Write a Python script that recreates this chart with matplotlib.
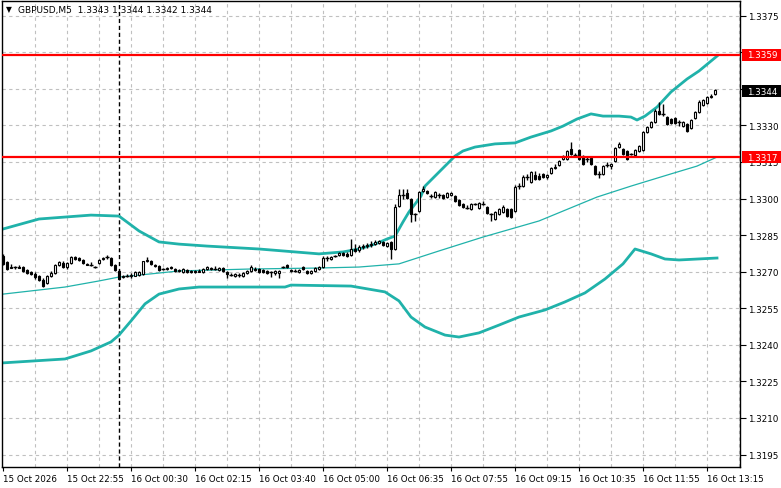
import matplotlib
matplotlib.use('Agg')
import matplotlib.pyplot as plt
import matplotlib.transforms as mtransforms
from matplotlib.patches import Rectangle

# GBPUSD M5 candles (one value per bar, left to right)
opens = [
    1.32764, 1.32740, 1.32715, 1.32719, 1.32719, 1.32719, 1.32707, 1.32699, 1.32691, 1.32682,
    1.32666, 1.32654, 1.32682, 1.32695, 1.32727, 1.32736, 1.32719, 1.32736, 1.32760, 1.32756,
    1.32748, 1.32732, 1.32727, 1.32719, 1.32736, 1.32752, 1.32760, 1.32756, 1.32727, 1.32703,
    1.32678, 1.32682, 1.32682, 1.32682, 1.32686, 1.32691, 1.32744, 1.32744, 1.32727, 1.32723,
    1.32711, 1.32711, 1.32719, 1.32711, 1.32703, 1.32699, 1.32707, 1.32703, 1.32703, 1.32699,
    1.32699, 1.32711, 1.32715, 1.32711, 1.32707, 1.32715, 1.32699, 1.32686, 1.32682, 1.32686,
    1.32682, 1.32695, 1.32703, 1.32711, 1.32711, 1.32707, 1.32703, 1.32699, 1.32695, 1.32695,
    1.32719, 1.32727, 1.32707, 1.32703, 1.32699, 1.32719, 1.32703, 1.32695, 1.32703, 1.32711,
    1.32719, 1.32756, 1.32752, 1.32764, 1.32768, 1.32777, 1.32773, 1.32768, 1.32793, 1.32789,
    1.32801, 1.32805, 1.32809, 1.32813, 1.32818, 1.32822, 1.32805, 1.32822, 1.32793, 1.32969,
    1.33014, 1.33023, 1.32998, 1.32937, 1.32949, 1.33031, 1.33031, 1.33010, 1.33006, 1.33014,
    1.33014, 1.33006, 1.33014, 1.33010, 1.32994, 1.32978, 1.32961, 1.32957, 1.32978, 1.32961,
    1.32978, 1.32965, 1.32937, 1.32916, 1.32937, 1.32945, 1.32957, 1.32957, 1.32949, 1.33051,
    1.33051, 1.33088, 1.33068, 1.33096, 1.33092, 1.33101, 1.33088, 1.33105, 1.33125, 1.33137,
    1.33162, 1.33162, 1.33203, 1.33178, 1.33199, 1.33174, 1.33162, 1.33166, 1.33133, 1.33101,
    1.33101, 1.33137, 1.33133, 1.33154, 1.33211, 1.33203, 1.33195, 1.33183, 1.33178, 1.33195,
    1.33199, 1.33273, 1.33293, 1.33314, 1.33359, 1.33347, 1.33334, 1.33326, 1.33330, 1.33314,
    1.33297, 1.33306, 1.33289, 1.33330, 1.33355, 1.33383, 1.33392, 1.33416, 1.33428,
]
highs = [
    1.32773, 1.32744, 1.32732, 1.32723, 1.32727, 1.32723, 1.32711, 1.32703, 1.32699, 1.32686,
    1.32674, 1.32686, 1.32703, 1.32732, 1.32744, 1.32744, 1.32740, 1.32764, 1.32764, 1.32760,
    1.32752, 1.32736, 1.32740, 1.32723, 1.32752, 1.32760, 1.32768, 1.32760, 1.32732, 1.32707,
    1.32686, 1.32691, 1.32695, 1.32703, 1.32703, 1.32744, 1.32760, 1.32748, 1.32732, 1.32727,
    1.32715, 1.32719, 1.32723, 1.32715, 1.32711, 1.32715, 1.32711, 1.32707, 1.32707, 1.32711,
    1.32715, 1.32723, 1.32719, 1.32723, 1.32719, 1.32719, 1.32703, 1.32695, 1.32695, 1.32695,
    1.32699, 1.32707, 1.32727, 1.32719, 1.32715, 1.32711, 1.32707, 1.32703, 1.32707, 1.32707,
    1.32723, 1.32732, 1.32711, 1.32711, 1.32711, 1.32723, 1.32707, 1.32707, 1.32719, 1.32723,
    1.32764, 1.32764, 1.32764, 1.32768, 1.32781, 1.32781, 1.32781, 1.32834, 1.32813, 1.32809,
    1.32813, 1.32818, 1.32826, 1.32830, 1.32830, 1.32826, 1.32822, 1.32826, 1.32978, 1.33039,
    1.33039, 1.33039, 1.33002, 1.32941, 1.33031, 1.33051, 1.33035, 1.33019, 1.33031, 1.33023,
    1.33019, 1.33027, 1.33027, 1.33014, 1.32998, 1.32982, 1.32973, 1.32982, 1.32982, 1.32986,
    1.32990, 1.32969, 1.32941, 1.32949, 1.32961, 1.32973, 1.32961, 1.32961, 1.33056, 1.33064,
    1.33096, 1.33101, 1.33113, 1.33113, 1.33105, 1.33105, 1.33101, 1.33129, 1.33142, 1.33158,
    1.33178, 1.33199, 1.33232, 1.33187, 1.33203, 1.33178, 1.33174, 1.33170, 1.33137, 1.33113,
    1.33137, 1.33150, 1.33146, 1.33211, 1.33232, 1.33207, 1.33199, 1.33187, 1.33203, 1.33219,
    1.33277, 1.33297, 1.33318, 1.33367, 1.33396, 1.33388, 1.33338, 1.33330, 1.33334, 1.33322,
    1.33318, 1.33310, 1.33326, 1.33359, 1.33404, 1.33408, 1.33420, 1.33428, 1.33449,
]
lows = [
    1.32727, 1.32707, 1.32715, 1.32711, 1.32715, 1.32699, 1.32691, 1.32686, 1.32670, 1.32662,
    1.32637, 1.32650, 1.32678, 1.32691, 1.32723, 1.32715, 1.32711, 1.32732, 1.32748, 1.32744,
    1.32732, 1.32727, 1.32723, 1.32715, 1.32732, 1.32748, 1.32752, 1.32723, 1.32703, 1.32666,
    1.32674, 1.32678, 1.32674, 1.32682, 1.32682, 1.32686, 1.32740, 1.32727, 1.32719, 1.32703,
    1.32707, 1.32707, 1.32711, 1.32699, 1.32699, 1.32695, 1.32695, 1.32695, 1.32695, 1.32699,
    1.32695, 1.32707, 1.32707, 1.32707, 1.32703, 1.32699, 1.32674, 1.32682, 1.32678, 1.32678,
    1.32678, 1.32691, 1.32699, 1.32703, 1.32695, 1.32695, 1.32691, 1.32678, 1.32686, 1.32674,
    1.32715, 1.32715, 1.32699, 1.32699, 1.32695, 1.32707, 1.32691, 1.32691, 1.32699, 1.32707,
    1.32715, 1.32744, 1.32748, 1.32760, 1.32764, 1.32764, 1.32760, 1.32764, 1.32781, 1.32781,
    1.32793, 1.32797, 1.32801, 1.32809, 1.32813, 1.32805, 1.32801, 1.32752, 1.32789, 1.32965,
    1.32998, 1.32998, 1.32904, 1.32908, 1.32945, 1.33027, 1.33019, 1.33002, 1.33002, 1.33002,
    1.32998, 1.33002, 1.33010, 1.32986, 1.32969, 1.32961, 1.32957, 1.32953, 1.32973, 1.32957,
    1.32973, 1.32937, 1.32908, 1.32912, 1.32932, 1.32941, 1.32924, 1.32920, 1.32945, 1.33039,
    1.33047, 1.33076, 1.33064, 1.33076, 1.33076, 1.33084, 1.33080, 1.33101, 1.33121, 1.33133,
    1.33158, 1.33158, 1.33178, 1.33174, 1.33158, 1.33137, 1.33150, 1.33137, 1.33096, 1.33084,
    1.33096, 1.33129, 1.33121, 1.33150, 1.33207, 1.33178, 1.33158, 1.33178, 1.33174, 1.33191,
    1.33195, 1.33269, 1.33289, 1.33310, 1.33342, 1.33338, 1.33301, 1.33306, 1.33306, 1.33297,
    1.33293, 1.33273, 1.33285, 1.33326, 1.33351, 1.33379, 1.33388, 1.33412, 1.33424,
]
closes = [
    1.32732, 1.32711, 1.32719, 1.32719, 1.32715, 1.32703, 1.32695, 1.32691, 1.32678, 1.32666,
    1.32641, 1.32682, 1.32695, 1.32727, 1.32740, 1.32719, 1.32736, 1.32760, 1.32752, 1.32748,
    1.32736, 1.32727, 1.32727, 1.32719, 1.32748, 1.32756, 1.32760, 1.32727, 1.32707, 1.32670,
    1.32682, 1.32682, 1.32686, 1.32699, 1.32699, 1.32744, 1.32748, 1.32732, 1.32723, 1.32707,
    1.32711, 1.32715, 1.32715, 1.32703, 1.32707, 1.32711, 1.32699, 1.32699, 1.32699, 1.32703,
    1.32711, 1.32719, 1.32711, 1.32711, 1.32715, 1.32703, 1.32691, 1.32686, 1.32691, 1.32686,
    1.32695, 1.32703, 1.32719, 1.32707, 1.32699, 1.32699, 1.32695, 1.32699, 1.32703, 1.32703,
    1.32719, 1.32719, 1.32703, 1.32703, 1.32707, 1.32711, 1.32695, 1.32703, 1.32715, 1.32719,
    1.32756, 1.32756, 1.32760, 1.32764, 1.32777, 1.32768, 1.32764, 1.32793, 1.32785, 1.32801,
    1.32805, 1.32809, 1.32813, 1.32822, 1.32826, 1.32809, 1.32818, 1.32793, 1.32965, 1.33014,
    1.33014, 1.33002, 1.32937, 1.32937, 1.33027, 1.33039, 1.33023, 1.33010, 1.33027, 1.33014,
    1.33002, 1.33023, 1.33023, 1.32990, 1.32973, 1.32965, 1.32961, 1.32978, 1.32978, 1.32982,
    1.32978, 1.32941, 1.32937, 1.32945, 1.32957, 1.32965, 1.32928, 1.32924, 1.33047, 1.33051,
    1.33088, 1.33088, 1.33109, 1.33080, 1.33080, 1.33088, 1.33096, 1.33125, 1.33129, 1.33154,
    1.33174, 1.33195, 1.33183, 1.33178, 1.33162, 1.33142, 1.33162, 1.33142, 1.33101, 1.33101,
    1.33133, 1.33137, 1.33142, 1.33207, 1.33224, 1.33183, 1.33162, 1.33183, 1.33199, 1.33215,
    1.33273, 1.33293, 1.33314, 1.33359, 1.33347, 1.33347, 1.33306, 1.33310, 1.33310, 1.33314,
    1.33314, 1.33277, 1.33322, 1.33355, 1.33396, 1.33404, 1.33416, 1.33420, 1.33445,
]

# Bollinger bands (bar index, price)
upper_x = [0, 9, 22, 29, 34, 39, 44, 51, 64, 70, 79, 85, 89, 93, 96, 98, 100, 101.5, 103,
           104.5, 105.5, 108, 110.5, 113, 115, 118, 123, 128, 132, 137, 140, 143.5, 147,
           150, 154, 157, 158.5, 160.5, 163.5, 167, 171, 174, 178.5]
upper_y = [1.32875, 1.32916, 1.32932, 1.32928, 1.32867, 1.32822, 1.32813, 1.32805, 1.32793,
           1.32785, 1.32773, 1.32781, 1.32793, 1.32813, 1.32834, 1.32846, 1.32904, 1.32945,
           1.32977, 1.33010, 1.33051, 1.33092, 1.33133, 1.33174, 1.33195, 1.33211, 1.33224,
           1.33228, 1.33252, 1.33277, 1.33297, 1.33326, 1.33347, 1.33338, 1.33338, 1.33334,
           1.33322, 1.33338, 1.33375, 1.33437, 1.33490, 1.33523, 1.33584]
middle_x = [0, 15.5, 24, 29, 37, 44, 62, 79, 89, 99, 109, 120, 134, 148.5, 157, 167, 173.5, 178.5]
middle_y = [1.32608, 1.32637, 1.32662, 1.32678, 1.32691, 1.32703, 1.32711, 1.32715, 1.32719,
            1.32732, 1.32785, 1.32842, 1.32908, 1.33006, 1.33051, 1.33101, 1.33133, 1.33170]
lower_x = [0, 15.5, 22, 27, 29, 32, 35.5, 39, 44, 49, 70.5, 72, 87, 95.5, 99, 102, 105.5,
           110.5, 114, 119, 124, 129, 135.5, 140.5, 145.5, 150.5, 155, 158, 162, 165.5, 169, 178.5]
lower_y = [1.32326, 1.32342, 1.32375, 1.32412, 1.32440, 1.32498, 1.32568, 1.32608, 1.32629,
           1.32637, 1.32637, 1.32645, 1.32641, 1.32617, 1.32580, 1.32514, 1.32473, 1.32440,
           1.32432, 1.32449, 1.32481, 1.32514, 1.32543, 1.32576, 1.32613, 1.32670, 1.32732,
           1.32793, 1.32773, 1.32752, 1.32748, 1.32756]

levels = [1.3359, 1.3317]
last_price = 1.3344
separator_bar = 29

time_ticks = [0, 16, 32, 48, 64, 80, 96, 112, 128, 144, 160, 176]
time_labels = ['15 Oct 2026', '15 Oct 22:55', '16 Oct 00:30', '16 Oct 02:15',
               '16 Oct 03:40', '16 Oct 05:00', '16 Oct 06:35', '16 Oct 07:55',
               '16 Oct 09:15', '16 Oct 10:35', '16 Oct 11:55', '16 Oct 13:15']
price_ticks = [1.3195, 1.3210, 1.3225, 1.3240, 1.3255, 1.3270, 1.3285, 1.3300,
               1.3315, 1.3330, 1.3345, 1.3360, 1.3375]

teal = '#20b2aa'
fs = 6.3

fig = plt.figure(figsize=(7.81, 4.89), dpi=100)
ax = fig.add_axes([2/781, 21/489, 738/781, 466/489])
ax.set_xlim(-0.25, 184.25)
ax.set_ylim(1.31899, 1.33810)

# grid
for p in price_ticks:
    ax.axhline(p, color='#c0c0c0', ls=(0, (3, 3)), lw=0.8, zorder=0)
for g in range(8, 185, 8):
    ax.axvline(g, color='#c0c0c0', ls=(0, (3, 3)), lw=0.8, zorder=0)

ax.axvline(separator_bar, color='black', ls=(0, (3, 2)), lw=1, zorder=1)

# bands
ax.plot(upper_x, upper_y, color=teal, lw=2.0, zorder=2)
ax.plot(lower_x, lower_y, color=teal, lw=2.0, zorder=2)
ax.plot(middle_x, middle_y, color=teal, lw=0.9, zorder=2)

# candles
xs = list(range(len(closes)))
ax.vlines(xs, lows, highs, color='black', lw=1, zorder=3)
for i in xs:
    o, c = opens[i], closes[i]
    bottom = min(o, c)
    h = abs(c - o)
    if h < 0.00003:
        ax.hlines(c, i - 0.4, i + 0.4, color='black', lw=1, zorder=4)
    else:
        fc = 'white' if c > o else 'black'
        ax.bar(i, h, bottom=bottom, width=0.7, color=fc, edgecolor='black',
               linewidth=0.8, zorder=4)

for lv in levels:
    ax.axhline(lv, color='red', lw=1.6, zorder=5)

# axes styling
ax.yaxis.tick_right()
ax.set_yticks(price_ticks)
ax.set_yticklabels(['%.4f' % p for p in price_ticks])
ax.set_xticks(time_ticks)
ax.set_xticklabels(time_labels)
for lbl in ax.get_xticklabels():
    lbl.set_horizontalalignment('left')
ax.tick_params(axis='x', length=3, pad=2, labelsize=fs, direction='out')
ax.tick_params(axis='y', length=4, pad=2, labelsize=fs, direction='out')
for s in ax.spines.values():
    s.set_color('black')
    s.set_linewidth(1)

# price boxes on right axis
trans = mtransforms.blended_transform_factory(fig.transFigure, ax.transData)
boxes = [(levels[0], 'red'), (last_price, 'black'), (levels[1], 'red')]
for p, col in boxes:
    fig.add_artist(Rectangle((742/781, p - 0.00025), 39/781, 0.0005, transform=trans,
                             facecolor=col, edgecolor='none', zorder=10))
    fig.text(747/781, p, '%.4f' % p, transform=trans, color='white', fontsize=fs,
             va='center', ha='left', zorder=11)

# header
fig.text(6/781, 1 - 10/489, '\u25bc', fontsize=5.5, va='center', ha='left')
fig.text(18/781, 1 - 10/489, 'GBPUSD,M5  1.3343 1.3344 1.3342 1.3344', fontsize=fs + 0.2,
         va='center', ha='left')

fig.savefig('out.png', dpi=100, facecolor='white')
